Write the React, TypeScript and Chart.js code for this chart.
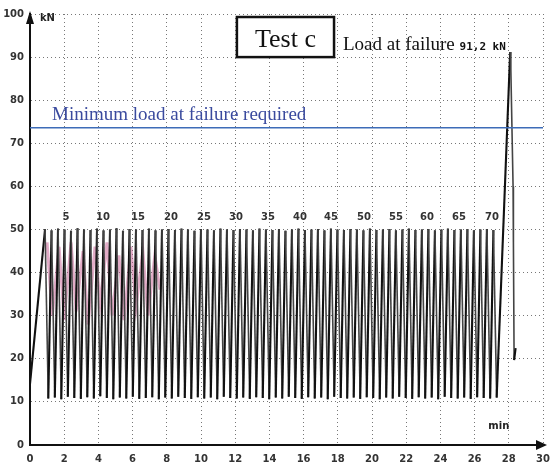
import React, { useEffect, useRef } from "react";
import { Chart, registerables } from "chart.js";

Chart.register(...registerables);

// ---- data ----
const xMaxMin = 30;
const yMaxKN = 100;

const rampMin = [0];
const rampKN = [14.2];

const peakMin = [
  0.88, 1.26, 1.64, 2.02, 2.4, 2.78, 3.16, 3.54, 3.92, 4.3,
  4.68, 5.06, 5.44, 5.82, 6.2, 6.58, 6.96, 7.34, 7.72, 8.1,
  8.48, 8.86, 9.24, 9.62, 10.0, 10.38, 10.76, 11.14, 11.52, 11.9,
  12.28, 12.66, 13.04, 13.42, 13.8, 14.18, 14.56, 14.94, 15.32, 15.7,
  16.08, 16.46, 16.84, 17.22, 17.6, 17.98, 18.36, 18.74, 19.12, 19.5,
  19.88, 20.26, 20.64, 21.02, 21.4, 21.78, 22.16, 22.54, 22.92, 23.3,
  23.68, 24.06, 24.44, 24.82, 25.2, 25.58, 25.96, 26.34, 26.72, 27.1,
];
const peakKN = [
  50.1, 49.8, 50.2, 50.0, 49.7, 50.3, 50.0, 49.9, 50.2, 49.8,
  50.0, 50.3, 49.7, 50.1, 50.0, 49.9, 50.2, 49.8, 50.0, 50.1,
  49.9, 50.2, 50.0, 49.7, 50.1, 50.0, 49.8, 50.2, 50.0, 49.9,
  50.1, 50.0, 49.8, 50.2, 50.0, 49.9, 50.1, 49.7, 50.0, 50.2,
  49.9, 50.0, 50.1, 49.8, 50.2, 50.0, 49.9, 50.1, 50.0, 49.8,
  50.2, 49.9, 50.0, 50.1, 49.8, 50.0, 50.2, 49.9, 50.0, 50.1,
  49.8, 50.0, 50.2, 49.9, 50.0, 50.1, 49.8, 50.0, 50.1, 49.9,
];
const troughMin = [
  1.07, 1.45, 1.83, 2.21, 2.59, 2.97, 3.35, 3.73, 4.11, 4.49,
  4.87, 5.25, 5.63, 6.01, 6.39, 6.77, 7.15, 7.53, 7.91, 8.29,
  8.67, 9.05, 9.43, 9.81, 10.19, 10.57, 10.95, 11.33, 11.71, 12.09,
  12.47, 12.85, 13.23, 13.61, 13.99, 14.37, 14.75, 15.13, 15.51, 15.89,
  16.27, 16.65, 17.03, 17.41, 17.79, 18.17, 18.55, 18.93, 19.31, 19.69,
  20.07, 20.45, 20.83, 21.21, 21.59, 21.97, 22.35, 22.73, 23.11, 23.49,
  23.87, 24.25, 24.63, 25.01, 25.39, 25.77, 26.15, 26.53, 26.91, 27.29,
];
const troughKN = [
  10.8, 11.0, 10.6, 11.2, 10.9, 10.7, 11.1, 10.8, 11.3, 10.9,
  10.6, 11.0, 10.8, 11.2, 10.7, 10.9, 11.1, 10.6, 11.0, 10.8,
  11.2, 10.9, 10.7, 11.1, 10.8, 11.0, 10.6, 11.2, 10.9, 10.8,
  11.0, 10.7, 11.1, 10.9, 10.6, 11.0, 10.8, 11.2, 10.9, 10.7,
  11.1, 10.8, 11.0, 10.6, 11.2, 10.9, 10.8, 11.0, 10.7, 11.1,
  10.9, 10.6, 11.0, 10.8, 11.2, 10.9, 10.7, 11.1, 10.8, 11.0,
  10.6, 11.2, 10.9, 10.8, 11.0, 10.7, 11.1, 10.9, 10.8, 11.0,
];

const failureMin = [28.08, 28.12, 28.25, 28.27, 28.31, 28.4];
const failureKN = [91.2, 87.0, 60.0, 47.0, 19.7, 22.5];

// faint magenta trace visible in the first minutes
const pinkMin = [1.0, 1.3, 1.7, 2.0, 2.4, 2.7, 3.1, 3.4, 3.8, 4.1, 4.5, 4.8, 5.2, 5.5, 5.9, 6.2, 6.6, 6.9, 7.3, 7.6];
const pinkKN = [47, 30, 46, 29, 47, 31, 45, 28, 46, 33, 47, 30, 44, 29, 46, 32, 45, 30, 44, 36];

const requiredKN = 73.6;

const cycleLabels = ["5", "10", "15", "20", "25", "30", "35", "40", "45", "50", "55", "60", "65", "70"];
const cycleLabelMin = [2.11, 4.27, 6.32, 8.25, 10.18, 12.05, 13.92, 15.79, 17.6, 19.53, 21.4, 23.22, 25.09, 27.02];
const cycleLabelKN = 52.7;

const titleText = "Test c";
const failureText = "Load at failure ";
const failureValueText = "91,2 kN";
const requiredText = "Minimum load at failure required";
const yUnit = "kN";
const xUnit = "min";

// ---- build datasets ----
function buildLoad() {
  const pts: { x: number; y: number }[] = [];
  rampMin.forEach((m, i) => pts.push({ x: m, y: rampKN[i] }));
  peakMin.forEach((m, i) => {
    pts.push({ x: m, y: peakKN[i] });
    pts.push({ x: troughMin[i], y: troughKN[i] });
  });
  failureMin.forEach((m, i) => pts.push({ x: m, y: failureKN[i] }));
  return pts;
}

const tickFont = { family: "'DejaVu Sans', sans-serif", size: 10, weight: "bold" as const };

const annotPlugin = {
  id: "annot",
  afterDraw(chart: any) {
    const { ctx, scales } = chart;
    const xs = scales.x;
    const ys = scales.y;
    const area = chart.chartArea;
    ctx.save();

    // axis arrows
    ctx.fillStyle = "#111";
    ctx.beginPath();
    ctx.moveTo(area.left, area.top - 3);
    ctx.lineTo(area.left - 4, area.top + 10);
    ctx.lineTo(area.left + 4, area.top + 10);
    ctx.closePath();
    ctx.fill();
    ctx.beginPath();
    ctx.moveTo(area.right + 4, area.bottom);
    ctx.lineTo(area.right - 7, area.bottom - 5);
    ctx.lineTo(area.right - 7, area.bottom + 5);
    ctx.closePath();
    ctx.fill();

    // unit labels
    ctx.font = "bold 10px 'DejaVu Sans', sans-serif";
    ctx.fillStyle = "#222";
    ctx.textBaseline = "middle";
    ctx.textAlign = "left";
    ctx.fillText(yUnit, xs.getPixelForValue(0.58), ys.getPixelForValue(99));
    ctx.fillText(xUnit, xs.getPixelForValue(26.8), ys.getPixelForValue(4.2));

    // cycle count labels
    ctx.textAlign = "center";
    ctx.fillStyle = "#333";
    cycleLabels.forEach((t, i) => {
      ctx.fillText(t, xs.getPixelForValue(cycleLabelMin[i]), ys.getPixelForValue(cycleLabelKN));
    });

    // title box
    const bx0 = xs.getPixelForValue(12.1);
    const bx1 = xs.getPixelForValue(17.78);
    const by0 = ys.getPixelForValue(99.3);
    const by1 = ys.getPixelForValue(90.0);
    ctx.fillStyle = "#fff";
    ctx.fillRect(bx0, by0, bx1 - bx0, by1 - by0);
    ctx.strokeStyle = "#111";
    ctx.lineWidth = 2.5;
    ctx.strokeRect(bx0, by0, bx1 - bx0, by1 - by0);
    ctx.fillStyle = "#111";
    ctx.font = "26px 'Liberation Serif', 'Times New Roman', serif";
    ctx.textAlign = "center";
    ctx.textBaseline = "alphabetic";
    ctx.fillText(titleText, (bx0 + bx1) / 2, ys.getPixelForValue(92.3));

    // load at failure text
    ctx.textAlign = "left";
    ctx.font = "19px 'Liberation Serif', 'Times New Roman', serif";
    const lx = xs.getPixelForValue(18.3);
    const ly = ys.getPixelForValue(91.6);
    ctx.fillText(failureText, lx, ly);
    const w = ctx.measureText(failureText).width;
    ctx.font = "bold 11px 'DejaVu Sans Mono', monospace";
    ctx.fillText(failureValueText, lx + w, ly);

    // required text
    ctx.font = "19px 'Liberation Serif', 'Times New Roman', serif";
    ctx.fillStyle = "#3a4a9e";
    ctx.fillText(requiredText, xs.getPixelForValue(1.29), ys.getPixelForValue(75.3));

    ctx.restore();
  },
};

export default function App() {
  const ref = useRef<HTMLCanvasElement | null>(null);
  useEffect(() => {
    if (!ref.current) return;
    const chart = new Chart(ref.current, {
      type: "line",
      data: {
        datasets: [
          {
            label: "required",
            data: [
              { x: 0, y: requiredKN },
              { x: xMaxMin, y: requiredKN },
            ],
            borderColor: "#3d6cb8",
            borderWidth: 1.6,
            pointRadius: 0,
            order: 0,
          },
          {
            label: "load",
            data: buildLoad(),
            borderColor: "#111",
            borderWidth: 1.8,
            pointRadius: 0,
            tension: 0,
            order: 1,
            segment: {
              borderColor: (c: any) => (c.p1.parsed.y > c.p0.parsed.y ? "#111" : "#444"),
              borderWidth: (c: any) => (c.p1.parsed.y > c.p0.parsed.y ? 2.1 : 1.6),
            },
          },
          {
            label: "trace",
            data: pinkMin.map((m, i) => ({ x: m, y: pinkKN[i] })),
            borderColor: "rgba(190,70,130,0.45)",
            borderWidth: 3,
            pointRadius: 0,
            order: 2,
          },
        ],
      },
      options: {
        animation: false,
        responsive: false,
        layout: { padding: { left: 0, right: 8, top: 14, bottom: 0 } },
        plugins: { legend: { display: false }, tooltip: { enabled: false } },
        scales: {
          x: {
            type: "linear",
            min: 0,
            max: xMaxMin,
            ticks: { stepSize: 2, color: "#333", font: tickFont, padding: 8, maxRotation: 0 },
            grid: { color: "#777", lineWidth: 1, drawTicks: false },
            border: { color: "#111", width: 2, dash: [1, 3] },
            afterFit: (s: any) => {
              s.height = 23;
              s.paddingRight = 0;
              s.paddingLeft = 0;
            },
          },
          y: {
            min: 0,
            max: yMaxKN,
            ticks: { stepSize: 10, color: "#333", font: tickFont, padding: 6 },
            grid: { color: "#777", lineWidth: 1, drawTicks: false },
            border: { color: "#111", width: 2, dash: [1, 3] },
            afterFit: (s: any) => {
              s.width = 30;
              s.paddingTop = 0;
              s.paddingBottom = 0;
            },
          },
        },
      },
      plugins: [annotPlugin],
    });
    return () => chart.destroy();
  }, []);
  return (
    <div style={{ position: "fixed", left: 0, top: 0, width: 551, height: 468, background: "#fff" }}>
      <canvas ref={ref} width={551} height={468} />
    </div>
  );
}
